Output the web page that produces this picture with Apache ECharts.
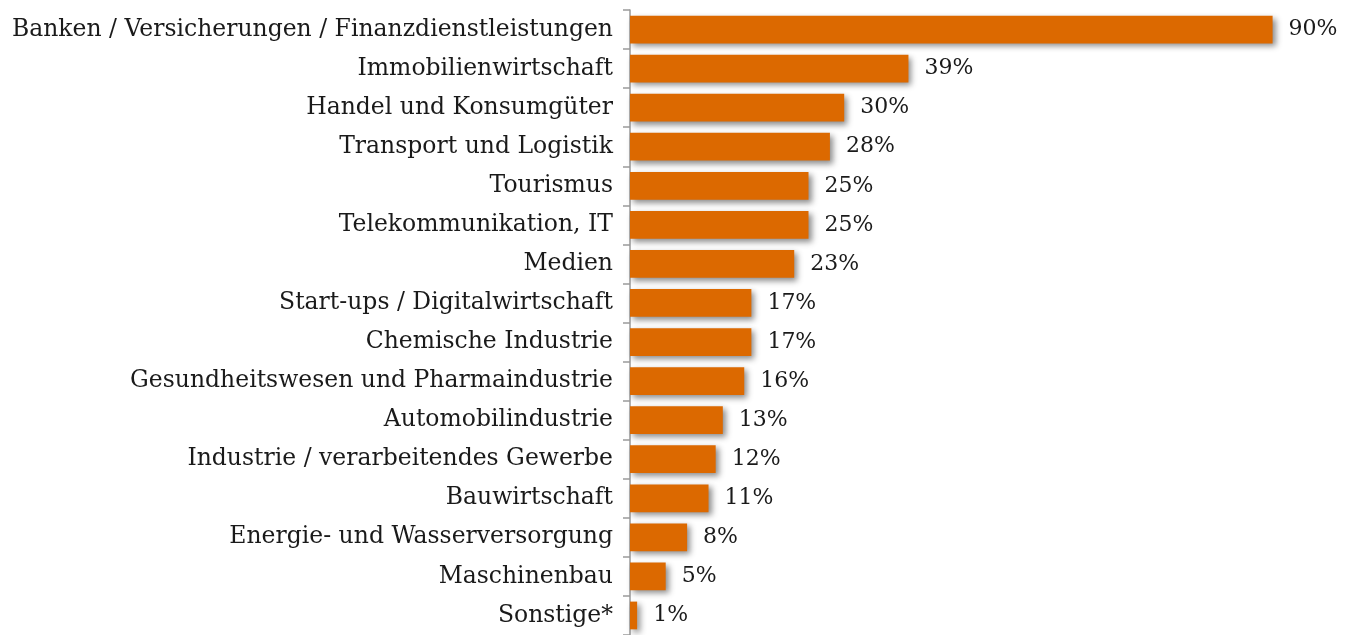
<!DOCTYPE html>
<html>
<head>
<meta charset="utf-8">
<script src="https://cdn.jsdelivr.net/npm/echarts@6/dist/echarts.min.js"></script>
<style>
  html, body { margin: 0; padding: 0; background: #fff; }
  #chart { width: 1351px; height: 635px; }
</style>
</head>
<body>
<div id="chart"></div>
<script>
const branchen = [
  'Banken / Versicherungen / Finanzdienstleistungen',
  'Immobilienwirtschaft',
  'Handel und Konsumgüter',
  'Transport und Logistik',
  'Tourismus',
  'Telekommunikation, IT',
  'Medien',
  'Start-ups / Digitalwirtschaft',
  'Chemische Industrie',
  'Gesundheitswesen und Pharmaindustrie',
  'Automobilindustrie',
  'Industrie / verarbeitendes Gewerbe',
  'Bauwirtschaft',
  'Energie- und Wasserversorgung',
  'Maschinenbau',
  'Sonstige*'
];
const anteile = [90, 39, 30, 28, 25, 25, 23, 17, 17, 16, 13, 12, 11, 8, 5, 1];

const serif = 'Georgia, "DejaVu Serif", serif';
const chart = echarts.init(document.getElementById('chart'));
chart.setOption({
  animation: false,
  grid: { left: 630, top: 10, width: 714, height: 629 },
  xAxis: {
    type: 'value', min: 0, max: 100,
    show: false
  },
  yAxis: {
    type: 'category',
    inverse: true,
    data: branchen,
    axisLine: { show: true, lineStyle: { color: '#9a9a9a', width: 1.5 } },
    axisTick: { show: true, length: 7, lineStyle: { color: '#9a9a9a', width: 1.5 } },
    axisLabel: { color: '#1a1a1a', fontFamily: serif, fontSize: 23.5, margin: 17 }
  },
  series: [{
    type: 'bar',
    data: anteile,
    barCategoryGap: '29%',
    itemStyle: {
      color: '#DC6900',
      shadowColor: 'rgba(0,0,0,0.45)',
      shadowBlur: 6,
      shadowOffsetX: 3,
      shadowOffsetY: 3
    },
    label: {
      show: true,
      position: 'right',
      distance: 16,
      formatter: '{c}%',
      color: '#1a1a1a',
      fontFamily: serif,
      fontSize: 22
    }
  }]
});
</script>
</body>
</html>
